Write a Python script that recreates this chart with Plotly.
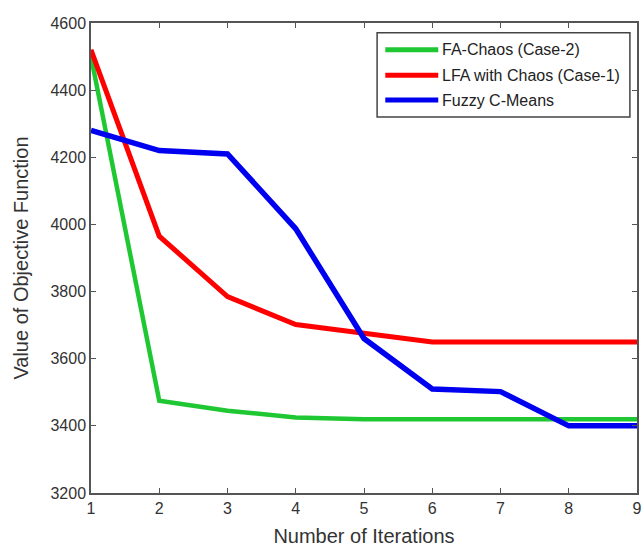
import plotly.graph_objects as go

iterations = [1, 2, 3, 4, 5, 6, 7, 8, 9]
fa_chaos_case2 = [4500, 3475, 3445, 3425, 3420, 3420, 3420, 3420, 3420]
lfa_chaos_case1 = [4520, 3965, 3785, 3702, 3676, 3650, 3650, 3650, 3650]
fuzzy_cmeans = [4280, 4220, 4210, 3987, 3660, 3510, 3502, 3400, 3400]

series_names = ["FA-Chaos (Case-2)", "LFA with Chaos (Case-1)", "Fuzzy C-Means"]
series_colors = ["#1fc832", "#ff0000", "#0000f0"]
series_widths = [4.5, 5, 5.5]
y_ticks = [3200, 3400, 3600, 3800, 4000, 4200, 4400, 4600]
x_ticks = [1, 2, 3, 4, 5, 6, 7, 8, 9]

font_family = "Liberation Sans, Arial, sans-serif"

fig = go.Figure()
for name, ys, col, w in zip(series_names, [fa_chaos_case2, lfa_chaos_case1, fuzzy_cmeans],
                            series_colors, series_widths):
    fig.add_trace(go.Scatter(x=iterations, y=ys, mode="lines", name=name,
                             line=dict(color=col, width=w), showlegend=False))

# Legend drawn as a boxed key in paper coordinates (MATLAB-style long samples)
fig.add_shape(type="rect", xref="paper", yref="paper",
              x0=0.524, x1=0.987, y0=0.800, y1=0.979,
              line=dict(color="#444444", width=1.5), fillcolor="white", layer="above")
row_y = [0.943, 0.889, 0.836]
for name, col, ry in zip(series_names, series_colors, row_y):
    fig.add_shape(type="line", xref="paper", yref="paper",
                  x0=0.539, x1=0.636, y0=ry, y1=ry,
                  line=dict(color=col, width=5), layer="above")
    fig.add_annotation(xref="paper", yref="paper", x=0.640, y=ry,
                       xanchor="left", yanchor="middle", text=name, showarrow=False,
                       font=dict(family=font_family, size=16, color="#222222"))

axis_common = dict(
    showline=True, linecolor="#555555", linewidth=1.5, mirror="ticks",
    ticks="inside", ticklen=5, tickcolor="#555555", tickwidth=1,
    showgrid=False, zeroline=False, automargin=False,
    ticklabeloverflow="allow",
    tickfont=dict(family=font_family, size=16, color="#333333"),
)

fig.update_xaxes(range=[1, 9], tickvals=x_ticks,
                 title=dict(text="Number of Iterations",
                            font=dict(family=font_family, size=20, color="#333333"),
                            standoff=13),
                 **axis_common)
fig.update_yaxes(range=[3200, 4600], tickvals=y_ticks,
                 title=dict(text="Value of Objective Function",
                            font=dict(family=font_family, size=20, color="#333333"),
                            standoff=16),
                 **axis_common)

fig.update_layout(
    width=644, height=547,
    margin=dict(l=91, r=7, t=23, b=54),
    plot_bgcolor="white", paper_bgcolor="white",
    showlegend=False,
)

# remove the default page margin so the figure fills the window exactly
fig.write_html("out.html",
               config={"displayModeBar": False},
               post_script="document.body.style.margin='0';"
                           "document.body.style.overflow='hidden';")
